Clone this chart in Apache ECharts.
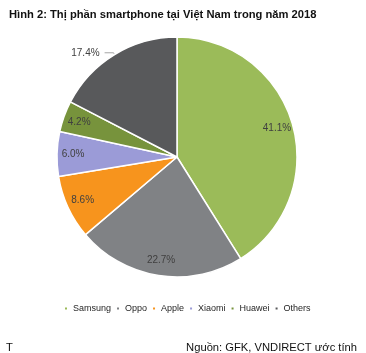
<!DOCTYPE html>
<html>
<head>
<meta charset="utf-8">
<script src="https://cdn.jsdelivr.net/npm/echarts@6/dist/echarts.min.js"></script>
<style>
  html, body { margin: 0; padding: 0; background: #fff; }
  #chart { width: 366px; height: 353px; }
</style>
</head>
<body>
<div id="chart"></div>
<script>
const brands = ["Samsung", "Oppo", "Apple", "Xiaomi", "Huawei", "Others"];
const shares = [41.1, 22.7, 8.6, 6.0, 4.2, 17.4];
const colors = ["#9BBB59", "#808285", "#F7941D", "#9B9BD7", "#77933C", "#58595B"];
// labels drawn outside the pie (with a leader line)
const outsideLabels = ["Others"];

const chart = echarts.init(document.getElementById("chart"));
const font = "'Liberation Sans', Arial, sans-serif";
const center = [177, 157];

const mainData = brands.map((name, i) => ({
  name: name,
  value: shares[i],
  itemStyle: { color: colors[i] },
  label: { show: outsideLabels.includes(name) },
  labelLine: { show: outsideLabels.includes(name) }
}));

// transparent ring so the inside labels sit near the rim, like Excel does
const ringData = brands.map((name, i) => ({
  name: name,
  value: shares[i],
  label: { show: !outsideLabels.includes(name) }
}));

const option = {
  animation: false,
  title: [
    {
      text: "Hình 2: Thị phần smartphone tại Việt Nam trong năm 2018",
      left: 4,
      top: 4,
      textStyle: { fontFamily: font, fontSize: 11.2, fontWeight: "bold", color: "#111" }
    },
    {
      text: "T",
      left: 1,
      top: 337,
      textStyle: { fontFamily: font, fontSize: 11.2, fontWeight: "normal", color: "#111" }
    },
    {
      text: "Nguồn: GFK, VNDIRECT ước tính",
      right: 4,
      top: 337,
      textStyle: { fontFamily: font, fontSize: 11.2, fontWeight: "normal", color: "#111" }
    }
  ],
  legend: {
    data: brands,
    top: 299,
    left: 58,
    icon: "rect",
    itemWidth: 4,
    itemHeight: 4,
    itemGap: 4,
    selectedMode: false,
    textStyle: { fontFamily: font, fontSize: 9, color: "#262626" }
  },
  series: [
    {
      name: "main",
      type: "pie",
      center: center,
      radius: [0, 120],
      startAngle: 90,
      clockwise: true,
      silent: true,
      itemStyle: { borderColor: "#fff", borderWidth: 1.5 },
      label: {
        position: "outside",
        formatter: (p) => p.value.toFixed(1) + "%",
        fontFamily: font,
        fontSize: 10,
        color: "#404040"
      },
      labelLine: {
        length: 2,
        length2: 9,
        lineStyle: { color: "#a6a6a6", width: 1 }
      },
      data: mainData
    },
    {
      name: "labels",
      type: "pie",
      center: center,
      radius: [82, 120],
      startAngle: 90,
      clockwise: true,
      silent: true,
      legendHoverLink: false,
      itemStyle: { color: "rgba(0,0,0,0)", borderWidth: 0 },
      label: {
        position: "inside",
        formatter: (p) => p.value.toFixed(1) + "%",
        fontFamily: font,
        fontSize: 10,
        color: "#404040"
      },
      labelLine: { show: false },
      data: ringData
    }
  ]
};

chart.setOption(option);
</script>
</body>
</html>
